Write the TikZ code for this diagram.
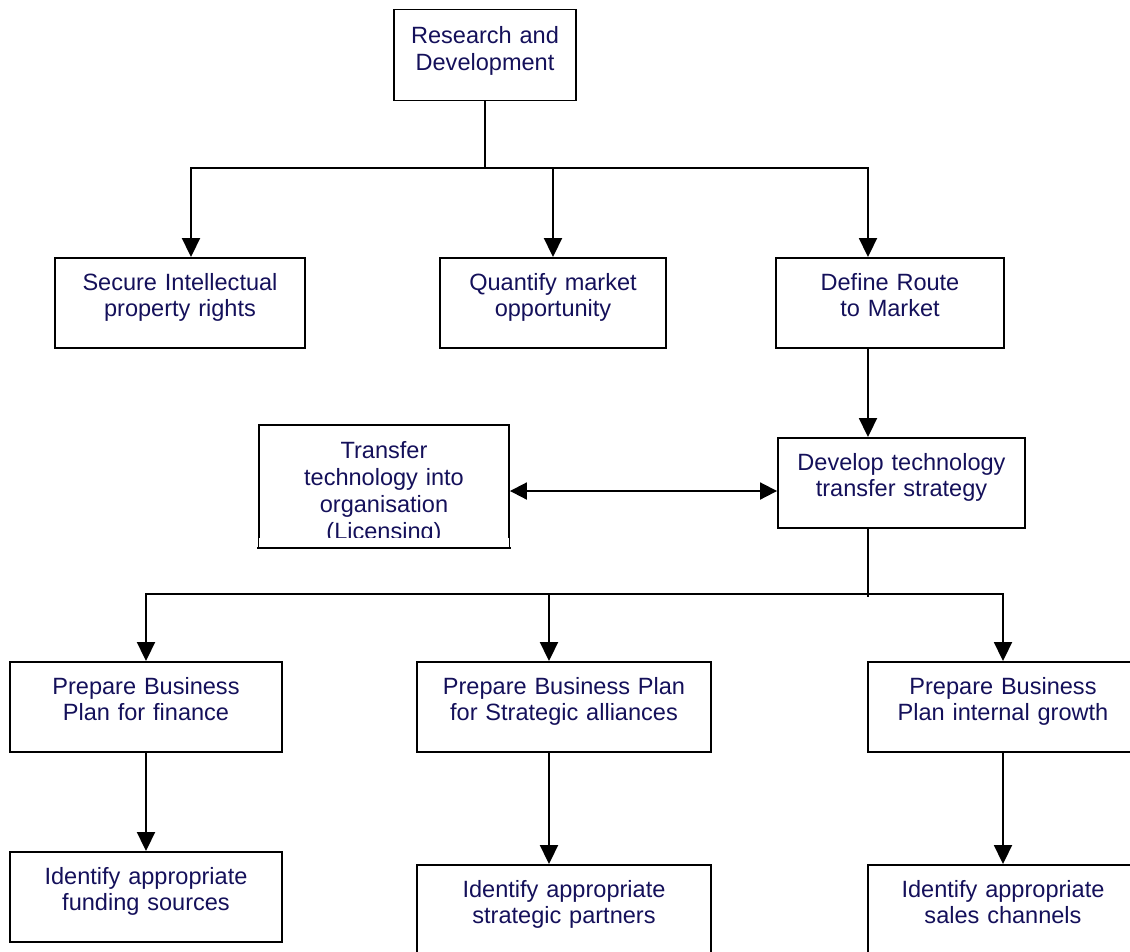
\documentclass[tikz,border=0pt]{standalone}
\usepackage{fontspec}
\setmainfont{Liberation Sans}
\usepackage{tikz}
\usetikzlibrary{arrows.meta, positioning}
\definecolor{ink}{RGB}{20, 16, 90}

\begin{document}
\begin{tikzpicture}[x=0.02cm, y=-0.02cm,
  stage/.style={draw, line width=1.1pt, inner sep=0pt, text width=#1, align=center,
    minimum height=1.8cm, text height=0pt, text depth=0.52cm, text=ink,
    font=\fontsize{13.4}{15.3}\selectfont},
  link/.style={line width=1.1pt},
  arrow/.style={link, -{Triangle[length=0.38cm, width=0.36cm]}},
  both/.style={link, {Triangle[length=0.34cm, width=0.34cm]}-{Triangle[length=0.34cm, width=0.34cm]}}
]
\clip (0,0) rectangle (1130,951);
\node[stage=3.64cm, minimum height=1.82cm, text depth=0.46cm] (rd) at (485,55) {Research and\\Development};
\node[stage=5cm] (secure) at (180,303) {Secure Intellectual\\property rights};
\node[stage=4.52cm] (quantify) at (553,303) {Quantify market\\opportunity};
\node[stage=4.56cm] (route) at (890,303) {Define Route\\to Market};
\node[stage=5cm, minimum height=2.44cm, text depth=1.1cm] (transfer) at (384,486) {Transfer\\technology into\\organisation\\(Licensing)};
\node[stage=4.94cm] (develop) at (901.5,483) {Develop technology\\transfer strategy};
\node[stage=5.44cm] (prepfin) at (146,707) {Prepare Business\\Plan for finance};
\node[stage=5.88cm] (prepstr) at (564,707) {Prepare Business Plan\\for Strategic alliances};
\node[stage=5.4cm] (prepint) at (1003,707) {Prepare Business\\Plan internal growth};
\node[stage=5.44cm] (idfund) at (146,897) {Identify appropriate\\funding sources};
\node[stage=5.88cm] (idpart) at (564,910) {Identify appropriate\\strategic partners};
\node[stage=5.4cm] (idsales) at (1003,910) {Identify appropriate\\sales channels};
% text box overflows at the bottom
\fill[white] ([xshift=0.6pt, yshift=0.6pt]transfer.south west) rectangle ([xshift=-0.6pt, yshift=0.19cm]transfer.south east);
\draw[link, line cap=rect] (transfer.south west) -- (transfer.south east);

\coordinate (busl) at (191,168);
\coordinate (busr) at (868,168);
\coordinate (swap) at (0,491);
\coordinate (lowbus) at (868,594);
\coordinate (lowstub) at (868,597);
\coordinate (midarrow) at (549,594);

\draw[arrow] (rd.south) |- (busl) -- (busl |- secure.north);
\draw[arrow] (rd.south) |- (busr) -- (busr |- route.north);
\draw[arrow] (quantify.north |- busl) -- (quantify.north);
\draw[arrow] (busr |- route.south) -- (busr |- develop.north);
\draw[both] (transfer.east |- swap) -- (develop.west |- swap);
\draw[link] (lowbus |- develop.south) -- (lowstub);
\draw[arrow] (lowbus) -| (prepfin.north);
\draw[arrow] (lowbus) -| (prepint.north);
\draw[arrow] (midarrow) -- (midarrow |- prepstr.north);
\draw[arrow] (prepfin) -- (idfund);
\draw[arrow] (midarrow |- prepstr.south) -- (midarrow |- idpart.north);
\draw[arrow] (prepint) -- (idsales);
\end{tikzpicture}
\end{document}
